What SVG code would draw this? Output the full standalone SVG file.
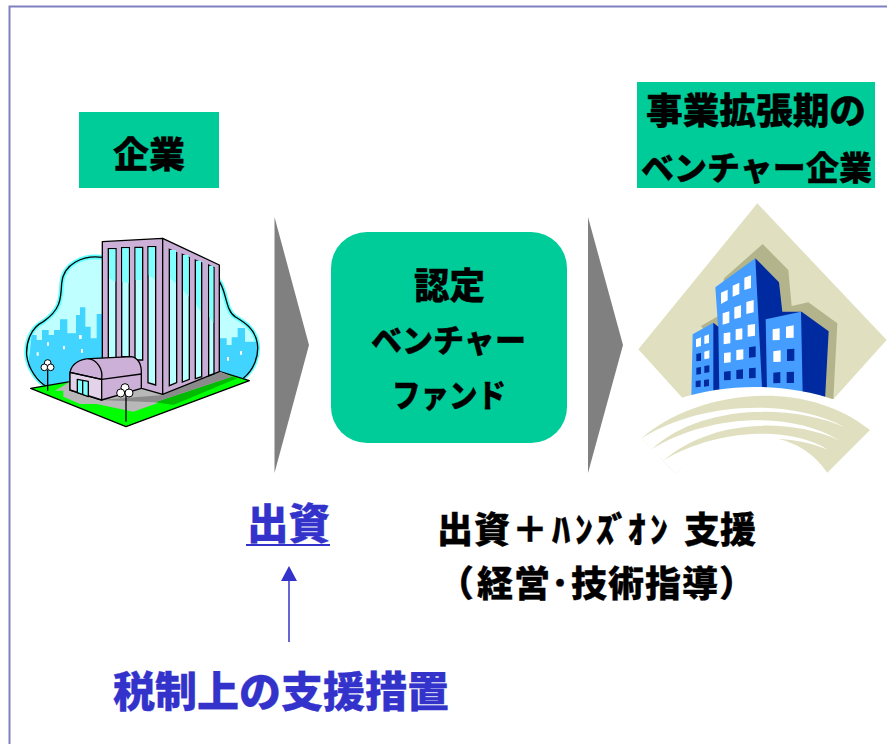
<svg xmlns="http://www.w3.org/2000/svg" width="887" height="744" viewBox="0 0 887 744">
<style>
.t{font-family:"Noto Sans CJK JP","Noto Sans CJK SC",sans-serif;font-weight:900;fill:#000;stroke:#000;stroke-width:.3}
.b{fill:#3333cc;stroke:#3333cc}
.box{fill:#00cc99}
.k{stroke:#000;stroke-width:4;stroke-linejoin:round}
.win{fill:#b8ffff;stroke:#000;stroke-width:4}
.lamp{fill:#fff;stroke:#000;stroke-width:3}
.w{fill:#fff}.d{fill:#002aa0}
</style>
<rect width="887" height="744" fill="#fff"/>
<path d="M9.500 744V6.500H887" fill="none" stroke="#8080c0" stroke-width="2"/>
<g id="company-label"><rect class="box" x="79" y="112" width="140" height="76"/><text class="t" x="113" y="168" font-size="36" textLength="72" lengthAdjust="spacingAndGlyphs">企業</text></g>
<g id="venture-label"><rect class="box" x="637" y="82" width="238" height="106"/><text class="t" x="646" y="124" font-size="36" textLength="220" lengthAdjust="spacingAndGlyphs">事業拡張期の</text><text class="t" x="641" y="180" font-size="33" textLength="231" lengthAdjust="spacingAndGlyphs">ベンチャー企業</text></g>
<g id="company-icon" transform="translate(0,200) scale(.33333)">
<path d="M307 172C250 165 190 190 185 250C183 300 180 330 130 365C90 385 78 430 80 465C85 510 115 545 140 560L730 535C760 510 778 470 772 430C765 385 730 365 705 350C675 330 680 270 655 240Z" fill="#c0ffff" stroke="#60ffff" stroke-width="14"/>
<path d="M84 500L95 405H110V420H126V390H146V405H162V390H180V358H202V400H228V345H240V322H256V380H272V415H290V342H307V520L140 560ZM660 415H680V435H695V412H713V384H735V425H770C778 470 760 510 730 535L660 515Z" fill="#40d4ff"/>
<path d="M307 172C250 165 190 190 185 250C183 300 180 330 130 365C90 385 78 430 80 465C85 510 115 545 140 560M730 535C760 510 778 470 772 430C765 385 730 365 705 350C675 330 680 270 655 240" fill="none" stroke="#000" stroke-width="4"/>
<path d="M92 565L210 545 660 515 748 542 378 680Z" fill="#00ff00" class="k"/>
<path d="M165 572L210 545 660 515 695 530 400 635 290 612H240L190 590V572Z" fill="#b8b8b8"/>
<path d="M465 607L695 530 712 535 520 615Z" fill="#00bb00"/>
<path d="M300 600L490 585 660 515 695 530 465 607Z" fill="#8a8a8a"/>
<path d="M307 125L488 115V583L425 565 307 510Z" fill="#cdb0d8" class="k"/>
<path d="M488 115L658 195V515L488 583Z" fill="#c8aed4" class="k"/>
<g class="win"><path d="M325 146H348V480H325ZM365 143H388V470H365ZM405 142H428V480H405ZM444 140H467V555L444 548ZM508 148L530 158V548L508 557ZM547 163L568 173V538L547 546ZM586 180L605 189V530L586 536ZM626 195L642 203V521L626 527Z"/></g>
<path d="M327 148H346V245L327 235ZM367 145H386V250L367 245ZM407 144H426V240L407 240ZM446 142H465V240L446 225ZM510 150H528V250L510 235ZM549 165H566V290L549 270ZM588 182H603V335L588 315ZM628 197H640V370L628 350Z" fill="#80ffff"/>
<path d="M210 517C215 490 240 477 270 476L395 470C415 475 425 495 424 522V565L305 600 210 570Z" fill="#cdb0d8" class="k"/>
<path d="M210 517V570L305 600V538Z" fill="#e2d2ea" class="k"/>
<path d="M210 517L305 538 424 522M305 538C310 505 290 480 265 476" fill="none" class="k"/>
<path d="M232 538L265 544V590L232 578Z" fill="#80ffff" class="k"/><path d="M248 541V584" class="k"/>
<path d="M143 510V572M378 585V665" class="k" fill="none"/>
<circle class="lamp" cx="143" cy="489" r="10"/><circle class="lamp" cx="133" cy="502" r="10"/><circle class="lamp" cx="152" cy="502" r="10"/>
<circle class="lamp" cx="375" cy="563" r="12"/><circle class="lamp" cx="362" cy="579" r="12"/><circle class="lamp" cx="387" cy="579" r="12"/>
<path d="M110 457h6v10h-6zM141 427h6v10h-6zM189 438h6v10h-6zM237 405h8v12h-8zM243 447h6v11h-6zM681 471h6v11h-6zM720 453h6v11h-6z" fill="#fff"/>
</g>
<g id="venture-icon" transform="translate(580,190) scale(.33333)">
<path d="M532 40L920 450 760 628C620 585 440 585 308 625L175 478Z" fill="#e0e0c0"/>
<path d="M363 408L415 378 432 265 548 162 625 240 635 348 685 337 772 400 760 628 500 590Z" fill="#b4b48c"/>
<path d="M334 625L338 433 400 398 415 420 406 292 526 205 560 600Z" fill="#449dff"/>
<path d="M400 398L415 410 418 610 400 610ZM526 205L597 277 607 365 665 365 746 424 735 630H548Z" fill="#002aa0"/>
<path d="M557 388L663 365 668 610 561 600Z" fill="#449dff"/>
<g class="w"><path d="M348 448l15-6v26l-15 4zM373 438l14-5v26l-14 3zM373 485l15-4v24l-15 3zM423 308l20-9v32l-20 11zM458 287l20-9v34l-20 8zM493 263l20-7v38l-20 6zM428 370l20-6v34l-20 6zM463 352l20-6v36l-20 5zM499 336l22-6v37l-22 5zM431 430l20-3v33l-20 3zM467 418l20-3v33l-20 3zM503 405l22-3v35l-22 3zM432 489l20-2v30l-20 2zM469 480l21-2v30l-21 3zM578 418l21-3v35l-21 1zM618 410l23-4v37l-23 1zM580 484l22-3v34l-22 1z"/></g>
<g class="d"><path d="M349 492l14-3v23l-14 2zM349 533l14-2v21l-14 2zM373 528l15-2v21l-15 2zM347 573l15-2v19l-15 2zM372 570l15-2v20l-15 2zM507 472l20-3v32l-20 2zM432 545l20-2v27l-20 1zM469 540l20-2v28l-20 1zM507 535l20-2v31l-20 1zM621 478l22-2v36l-22 1zM580 548l21-2v33l-21 1zM620 546l22-1v34l-22 0z"/></g>
<path d="M296 626C440 578 620 578 772 632V660H296Z" fill="#fff"/>
<path d="M185 745C320 620 650 545 870 720L742 848C640 700 440 710 285 850Z" fill="#e0e0c0"/>
<path d="M185 745C350 640 620 620 795 712C620 635 350 650 215 778ZM215 778C370 680 620 655 780 752C620 680 390 690 250 812ZM250 812C390 725 620 700 745 780C620 725 420 730 285 850Z" fill="#fff"/>
</g>
<g id="connectors">
<path d="M274.500 217L309 345 274.500 473Z" fill="#808080"/>
<path d="M588 217L623 345 588 473Z" fill="#808080"/>
<path d="M289 642V578" stroke="#3333cc" stroke-width="1.500" fill="none"/>
<path d="M289 566L297 581H281Z" fill="#3333cc"/>
</g>
<g id="fund"><rect class="box" x="331" y="232" width="236" height="211" rx="36"/><text class="t" x="414" y="299" font-size="36" textLength="71" lengthAdjust="spacingAndGlyphs">認定</text><text class="t" x="371" y="352" font-size="32" textLength="155" lengthAdjust="spacingAndGlyphs">ベンチャー</text><text class="t" x="392" y="407" font-size="32" textLength="114" lengthAdjust="spacingAndGlyphs">ファンド</text></g>
<g id="invest"><text class="t b" x="247" y="539" font-size="42" textLength="83" lengthAdjust="spacingAndGlyphs">出資</text><rect x="246" y="544" width="84" height="2" fill="#3333cc"/></g>
<g id="support"><text class="t" y="543" font-size="36" x="437 474 512 552 575 596 611 628 650 684 720">出資＋ﾊﾝｽﾞｵﾝ支援</text><text class="t" y="597" font-size="36" x="438 477 514 551 571 608 645 682 719">（経営･技術指導）</text></g>
<g id="tax"><text class="t b" x="113" y="707" font-size="42" textLength="336" lengthAdjust="spacingAndGlyphs">税制上の支援措置</text></g>
</svg>
